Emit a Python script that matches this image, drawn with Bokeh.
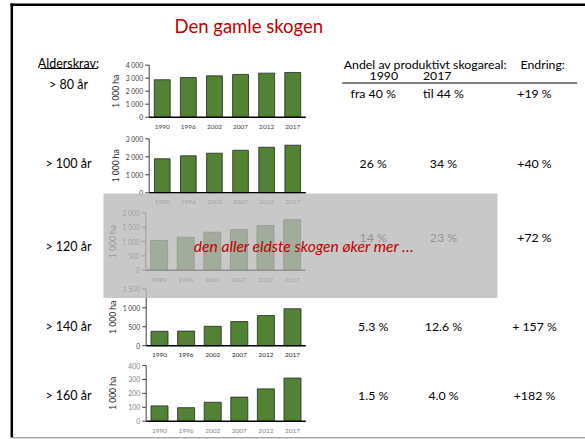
import math
from bokeh.plotting import figure
from bokeh.models import Range1d
from bokeh.embed import file_html
from bokeh.resources import INLINE
from bokeh.core.properties import value

# ---------------- data ----------------
years = ["1990", "1996", "2002", "2007", "2012", "2017"]
area_80 = [2880, 3050, 3180, 3290, 3390, 3440]
area_100 = [1890, 2055, 2200, 2365, 2530, 2645]
area_120 = [1035, 1150, 1325, 1420, 1555, 1765]
area_140 = [380, 385, 512, 637, 796, 975]
area_160 = [110, 97, 136, 173, 232, 310]

ticks_80 = [0, 1000, 2000, 3000, 4000]
ticks_100 = [0, 1000, 2000, 3000]
ticks_120 = [0, 500, 1000, 1500, 2000]
ticks_140 = [0, 500, 1000, 1500]
ticks_160 = [0, 100, 200, 300, 400]
tick_labels_80 = ["0", "1 000", "2 000", "3 000", "4 000"]
tick_labels_100 = ["0", "1 000", "2 000", "3 000"]
tick_labels_120 = ["0", "500", "1 000", "1 500", "2 000"]
tick_labels_140 = ["0", "500", "1 000", "1 500"]
tick_labels_160 = ["0", "100", "200", "300", "400"]

age_labels = ["> 80 år", "> 100 år", "> 120 år", "> 140 år", "> 160 år"]
share_1990 = ["fra 40 %", "26 %", "14 %", "5.3 %", "1.5 %"]
share_2017 = ["til 44 %", "34 %", "23 %", "12.6 %", "4.0 %"]
change = ["+19 %", "+40 %", "+72 %", "+ 157 %", "+182 %"]

title_text = "Den gamle skogen"
age_header = "Alderskrav:"
share_header = "Andel av produktivt skogareal:"
change_header = "Endring:"
unit_label = "1 000 ha"
note_text = "den aller eldste skogen øker mer …"

# ---------------- layout ----------------
W, H = 585, 439
FONT = "Lato"
GREEN = "#548235"
RED = "#c00000"

p = figure(width=W, height=H, x_range=Range1d(0, W), y_range=Range1d(H, 0),
           output_backend="svg", toolbar_location=None, min_border=0,
           x_axis_location=None, y_axis_location=None)
p.outline_line_color = None
p.background_fill_color = "white"
p.border_fill_color = "white"
p.xgrid.visible = False
p.ygrid.visible = False
p.grid.grid_line_color = None

def txt(x, y, t, size, color="black", align="left", style="normal", baseline="middle"):
    p.text(x=x, y=y, text=t, text_font=value(FONT), text_font_size=value(f"{size}px"),
           text_color=color, text_align=align, text_baseline=baseline,
           text_font_style=style)

# slide border
p.segment(x0=[11.3], y0=[3], x1=[11.3], y1=[437], line_color="black", line_width=2.5)
p.segment(x0=[10], y0=[4.3], x1=[585], y1=[4.3], line_color="black", line_width=2.5)
p.segment(x0=[11], y0=[437.3], x1=[585], y1=[437.3], line_color="#808080", line_width=1)

charts = [
    dict(name="c80", vals=area_80, ticks=ticks_80, tl=tick_labels_80,
         L=148.7, w=26.1, B=116.7, top=64.7, bw=0.61, tc="#404040", yc="#404040"),
    dict(name="c100", vals=area_100, ticks=ticks_100, tl=tick_labels_100,
         L=148.7, w=26.1, B=192.3, top=138.3, bw=0.60, tc="#404040", yc="#404040"),
    dict(name="c120", vals=area_120, ticks=ticks_120, tl=tick_labels_120,
         L=145.3, w=26.6, B=269.7, top=212.3, bw=0.64, tc="#404040", yc="#404040"),
    dict(name="c140", vals=area_140, ticks=ticks_140, tl=tick_labels_140,
         L=145.7, w=26.6, B=345.2, top=288.4, bw=0.64, tc="#404040", yc="#262626"),
    dict(name="c160", vals=area_160, ticks=ticks_160, tl=tick_labels_160,
         L=145.7, w=26.6, B=420.7, top=365.0, bw=0.64, tc="#7f7f7f", yc="#7f7f7f"),
]

for c in charts:
    nm = c["name"]
    tmax = c["ticks"][-1]
    k = (c["B"] - c["top"]) / tmax
    L, w, B = c["L"], c["w"], c["B"]
    p.extra_x_ranges[nm] = Range1d(-L / w - 0.5, (W - L) / w - 0.5)
    p.extra_y_ranges[nm] = Range1d((B - H) / k, B / k)
    xs = list(range(len(years)))
    kw = dict(x_range_name=nm, y_range_name=nm)
    p.vbar(x=xs, top=c["vals"], bottom=0, width=c["bw"], fill_color=GREEN,
           line_color="#262626", line_width=0.8, **kw)
    p.segment(x0=[-0.5], y0=[0], x1=[-0.5], y1=[tmax], line_color="#404040", line_width=1, **kw)
    p.ray(x=[-0.5] * len(c["ticks"]), y=c["ticks"], length=4, length_units="screen",
          angle=math.pi, line_color="#404040", line_width=1, **kw)
    p.segment(x0=[-0.5], y0=[0], x1=[5.5], y1=[0], line_color="black", line_width=1.5, **kw)
    p.text(x=[-0.5] * len(c["ticks"]), y=c["ticks"], text=c["tl"], x_offset=-6,
           text_font=value(FONT), text_font_size=value("6.8px"), text_color=c["tc"],
           text_align="right", text_baseline="middle", **kw)
    p.text(x=xs, y=[0] * len(xs), text=years, y_offset=9.5,
           text_font=value(FONT), text_font_size=value("6.5px"), text_color=c["yc"],
           text_align="center", text_baseline="middle", **kw)
    p.text(x=[-0.5], y=[tmax / 2], text=[unit_label], x_offset=-33, angle=math.pi / 2,
           text_font=value(FONT), text_font_size=value("8.5px"), text_color="#262626",
           text_align="center", text_baseline="middle", **kw)

# left column
txt([68], [62.5], [age_header], 12.5, align="center")
p.segment(x0=[40], y0=[68], x1=[97], y1=[68], line_color="black", line_width=1)
row_y = [83.5, 163, 246, 326, 395]
txt([68] * 5, row_y, age_labels, 12.5, align="center")

# right column
txt([343.3], [64.3], [share_header], 12.3)
txt([520], [64.3], [change_header], 12.3)
txt([383.3, 436.7], [75.5, 75.5], ["1990", "2017"], 12.3, align="center")
p.segment(x0=[341.7], y0=[82.5], x1=[576.7], y1=[82.5], line_color="black", line_width=1)
val_y = [92.7, 163, 236.5, 326, 395]
txt([372.7] * 5, val_y, share_1990, 12.3, align="center")
txt([443] * 5, val_y, share_2017, 12.3, align="center")
txt([534] * 5, val_y, change, 12.3, align="center")

# grey overlay over the >120 chart
p.quad(left=[103], right=[497], top=[193], bottom=[297.5], fill_color="#b8b8b8",
       fill_alpha=0.78, line_color=None)

# red note and title
txt([193.3], [245], [note_text], 15.6, color=RED, style="italic")
txt([248.3], [25], [title_text], 18.5, color=RED, align="center")

open("out.html", "w").write(file_html(p, INLINE))
